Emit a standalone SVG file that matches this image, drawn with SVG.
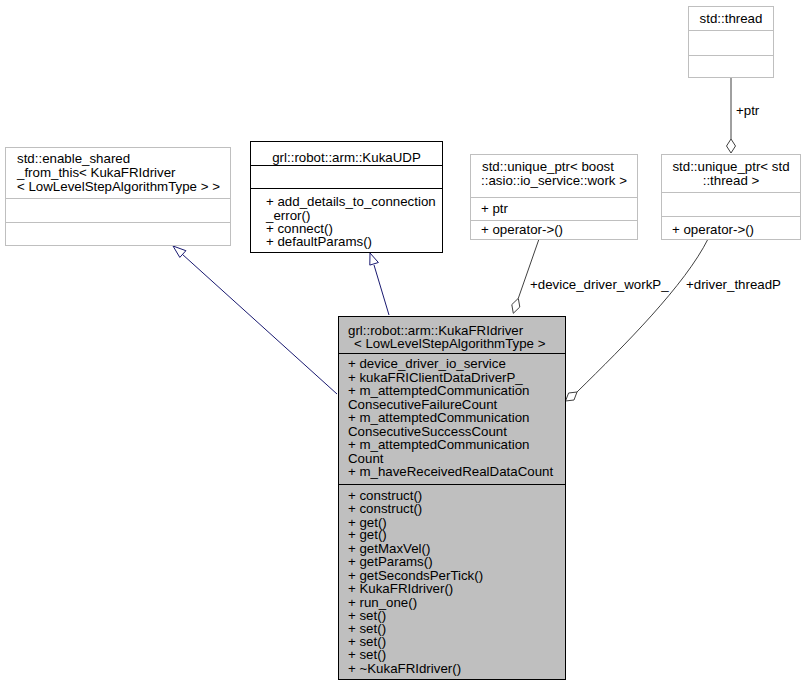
<svg xmlns="http://www.w3.org/2000/svg" width="806" height="687" viewBox="0 0 806 687">
<style>
text{font-family:"Liberation Sans",Arial,Helvetica,sans-serif;font-size:13.3px;fill:#000}
.c{text-anchor:middle}
.lb{fill:#fff;stroke:#bfbfbf;stroke-width:1}
.db{fill:#fff;stroke:#000;stroke-width:1}
.mb{fill:#bfbfbf;stroke:#000;stroke-width:1}
.inh{fill:none;stroke:#191970;stroke-width:1}
.inhh{fill:#fff;stroke:#191970;stroke-width:1}
.agg{fill:none;stroke:#404040;stroke-width:1}
.aggh{fill:#fff;stroke:#404040;stroke-width:1}
</style>
<rect width="806" height="687" fill="#fff"/>
<g id="connectors">
  <path class="inh" d="M337,394 L182,254"/>
  <polygon class="inhh" points="173,246 185.9,250.7 179.8,257.4"/>
  <path class="inh" d="M389,315 L374,265"/>
  <polygon class="inhh" points="370,253 378.4,262.5 369.8,265.1"/>
  <path class="agg" d="M518.3,298.3 L539,239"/>
  <polygon class="aggh" points="513.3,313.3 511.8,304.6 518.3,298.3 519.8,307"/>
  <path class="agg" d="M708,239 C685,285 625,345 577,392"/>
  <polygon class="aggh" points="565.5,401 568.6,393 577,392 574,400"/>
  <path class="agg" d="M731,77 L731,139"/>
  <polygon class="aggh" points="731,153 726.5,146 731,139 735.5,146"/>
  <text x="530" y="288.5">+device_driver_workP_</text>
  <text x="686" y="288.5">+driver_threadP</text>
  <text x="736" y="114.5">+ptr</text>
</g>
<g id="enable_shared">
  <rect class="lb" x="5.5" y="147.5" width="225" height="98"/>
  <line class="lb" x1="5.5" y1="198.5" x2="230.5" y2="198.5"/>
  <line class="lb" x1="5.5" y1="222.5" x2="230.5" y2="222.5"/>
  <text x="17" y="162.5">std::enable_shared</text>
  <text x="17" y="177">_from_this&lt; KukaFRIdriver</text>
  <text x="17" y="191">&lt; LowLevelStepAlgorithmType &gt; &gt;</text>
</g>
<g id="KukaUDP">
  <rect class="db" x="250.5" y="141.5" width="192" height="111"/>
  <line class="db" x1="250.5" y1="165.5" x2="442.5" y2="165.5"/>
  <line class="db" x1="250.5" y1="188.5" x2="442.5" y2="188.5"/>
  <text class="c" x="346.5" y="161.5">grl::robot::arm::KukaUDP</text>
  <text x="266" y="206">+ add_details_to_connection</text>
  <text x="266" y="219.5">_error()</text>
  <text x="266" y="232.5">+ connect()</text>
  <text x="266" y="246">+ defaultParams()</text>
</g>
<g id="unique_ptr_work">
  <rect class="lb" x="470.5" y="154.5" width="167" height="85"/>
  <line class="lb" x1="470.5" y1="197.5" x2="637.5" y2="197.5"/>
  <line class="lb" x1="470.5" y1="220.5" x2="637.5" y2="220.5"/>
  <text x="482" y="171">std::unique_ptr&lt; boost</text>
  <text x="481" y="185">::asio::io_service::work &gt;</text>
  <text x="481" y="212.5">+ ptr</text>
  <text x="481" y="233.5">+ operator-&gt;()</text>
</g>
<g id="thread">
  <rect class="lb" x="688.5" y="6.5" width="85" height="71"/>
  <line class="lb" x1="688.5" y1="30.5" x2="773.5" y2="30.5"/>
  <line class="lb" x1="688.5" y1="55.5" x2="773.5" y2="55.5"/>
  <text class="c" x="731" y="23">std::thread</text>
</g>
<g id="unique_ptr_thread">
  <rect class="lb" x="661.5" y="154.5" width="139" height="85"/>
  <line class="lb" x1="661.5" y1="192.5" x2="800.5" y2="192.5"/>
  <line class="lb" x1="661.5" y1="216.5" x2="800.5" y2="216.5"/>
  <text class="c" x="731" y="171">std::unique_ptr&lt; std</text>
  <text class="c" x="731" y="184.5">::thread &gt;</text>
  <text x="672" y="233.5">+ operator-&gt;()</text>
</g>
<g id="KukaFRIdriver">
  <rect class="mb" x="338.5" y="316.5" width="227" height="363"/>
  <line class="mb" x1="338.5" y1="353.5" x2="565.5" y2="353.5"/>
  <line class="mb" x1="338.5" y1="484.5" x2="565.5" y2="484.5"/>
  <text x="348" y="335">grl::robot::arm::KukaFRIdriver</text>
  <text x="354" y="347.5">&lt; LowLevelStepAlgorithmType &gt;</text>
  <text x="348" y="368">+ device_driver_io_service</text>
  <text x="348" y="381.5">+ kukaFRIClientDataDriverP_</text>
  <text x="348" y="395">+ m_attemptedCommunication</text>
  <text x="348" y="408.5">ConsecutiveFailureCount</text>
  <text x="348" y="422">+ m_attemptedCommunication</text>
  <text x="348" y="435.5">ConsecutiveSuccessCount</text>
  <text x="348" y="449">+ m_attemptedCommunication</text>
  <text x="348" y="462.5">Count</text>
  <text x="348" y="476">+ m_haveReceivedRealDataCount</text>
  <text x="348" y="499.5">+ construct()</text>
  <text x="348" y="513">+ construct()</text>
  <text x="348" y="526.5">+ get()</text>
  <text x="348" y="539">+ get()</text>
  <text x="348" y="552.5">+ getMaxVel()</text>
  <text x="348" y="566">+ getParams()</text>
  <text x="348" y="579.5">+ getSecondsPerTick()</text>
  <text x="348" y="592.5">+ KukaFRIdriver()</text>
  <text x="348" y="606.5">+ run_one()</text>
  <text x="348" y="619.5">+ set()</text>
  <text x="348" y="632.5">+ set()</text>
  <text x="348" y="646">+ set()</text>
  <text x="348" y="659">+ set()</text>
  <text x="348" y="673">+ ~KukaFRIdriver()</text>
</g>
</svg>
